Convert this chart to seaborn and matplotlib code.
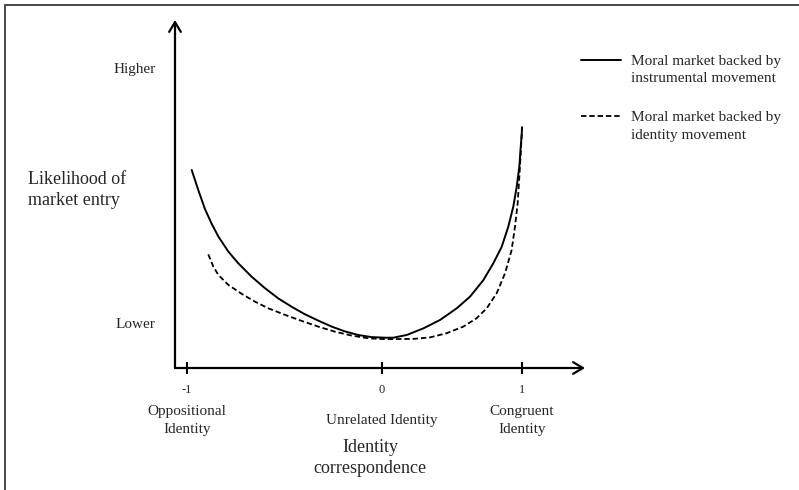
import numpy as np
import pandas as pd
import seaborn as sns
import matplotlib.pyplot as plt
from matplotlib.legend_handler import HandlerLine2D

# curve values (x = identity correspondence, y = likelihood)
inst_x = [-0.976, -0.942, -0.908, -0.873, -0.839, -0.788, -0.737, -0.668, -0.600, -0.532,
          -0.463, -0.395, -0.327, -0.258, -0.190, -0.122, -0.053, 0.021, 0.081, 0.176,
          0.295, 0.414, 0.534, 0.629, 0.724, 0.795, 0.855, 0.902, 0.938, 0.962,
          0.981, 0.991, 0.998, 1.0]
inst_y = [0.660, 0.593, 0.530, 0.480, 0.438, 0.388, 0.349, 0.304, 0.266, 0.232,
          0.204, 0.179, 0.158, 0.138, 0.122, 0.110, 0.103, 0.101, 0.101, 0.110,
          0.132, 0.160, 0.199, 0.238, 0.293, 0.349, 0.404, 0.471, 0.538, 0.604,
          0.671, 0.738, 0.777, 0.803]
iden_x = [-0.891, -0.865, -0.839, -0.788, -0.719, -0.651, -0.583, -0.497, -0.412, -0.327,
          -0.241, -0.155, -0.070, 0.021, 0.224, 0.343, 0.462, 0.581, 0.676, 0.748,
          0.819, 0.879, 0.926, 0.950, 0.969, 0.981, 0.991, 0.998, 1.0]
iden_y = [0.379, 0.338, 0.310, 0.277, 0.247, 0.221, 0.199, 0.177, 0.157, 0.138,
          0.121, 0.108, 0.099, 0.096, 0.097, 0.102, 0.116, 0.138, 0.166, 0.199,
          0.249, 0.316, 0.393, 0.471, 0.549, 0.638, 0.716, 0.782, 0.803]

series = ["Moral market backed by\ninstrumental movement",
          "Moral market backed by\nidentity movement"]
x_ticks = [-1, 0, 1]
x_ticklabels = ["-1", "0", "1"]
x_categories = ["Oppositional\nIdentity", "Unrelated Identity", "Congruent\nIdentity"]
y_ticks = [1.0, 0.15]
y_ticklabels = ["Higher", "Lower"]

df1 = pd.DataFrame({"x": inst_x, "y": inst_y})
df2 = pd.DataFrame({"x": iden_x, "y": iden_y})

sns.set_style("white")
plt.rcParams['font.family'] = ['Liberation Serif', 'DejaVu Serif']

fig = plt.figure(figsize=(7.99, 4.90), dpi=100)
W, H = 799, 490
ax = fig.add_axes([175 / W, 1 - 368 / H, (585 - 175) / W, (368 - 20) / H])


# the x axis in the original is not evenly spaced (-1..0 is wider than 0..1)
def fwd(x):
    x = np.asarray(x, dtype=float)
    return np.where(x < 0, x * 195, x * 140)


def inv(p):
    p = np.asarray(p, dtype=float)
    return np.where(p < 0, p / 195, p / 140)


sns.lineplot(data=df1, x="x", y="y", color="black", lw=1.4, sort=False,
             estimator=None, label=series[0], ax=ax)
sns.lineplot(data=df2, x="x", y="y", color="black", lw=1.3, sort=False,
             estimator=None, label=series[1], ax=ax, linestyle=(0, (3, 1.6)))

ax.set_xscale('function', functions=(fwd, inv))
ax.set_xlim(-207 / 195, 203 / 140)
ax.set_ylim(0, 348 / 300)

for s in ax.spines.values():
    s.set_visible(False)

# arrowed axes
for end in [(1, 0), (0, 1)]:
    ax.annotate("", xy=end, xytext=(0, 0), xycoords="axes fraction",
                arrowprops=dict(arrowstyle="->, head_length=0.5, head_width=0.3",
                                lw=1.6, color="black", mutation_scale=14,
                                shrinkA=0, shrinkB=0))

ax.set_xticks(x_ticks, x_ticklabels)
ax.xaxis.set_minor_locator(plt.NullLocator())
ax.tick_params(axis="x", direction="inout", length=9, width=1.5, pad=7,
               labelsize=9, bottom=True, color="black")
ax.set_yticks(y_ticks, y_ticklabels)
ax.yaxis.set_minor_locator(plt.NullLocator())
ax.tick_params(axis="y", length=0, pad=14, labelsize=11)
ax.set_xlabel("")
ax.set_ylabel("")

tr = ax.get_xaxis_transform()
for xv, lab in zip(x_ticks, x_categories):
    ax.text(xv, -0.15, lab, transform=tr, ha="center", va="center",
            fontsize=11, linespacing=1.5)
ax.text(-0.06, -0.259, "Identity\ncorrespondence", transform=tr, ha="center",
        va="center", fontsize=13, linespacing=1.35)
ax.text(-147 / 410, 178 / 348, "Likelihood of\nmarket entry", transform=ax.transAxes,
        ha="left", va="center", fontsize=13, linespacing=1.3)


class TopLine(HandlerLine2D):
    # put the key sample level with the first line of a two-line label
    def create_artists(self, legend, orig_handle, xdescent, ydescent, width,
                       height, fontsize, trans):
        arts = super().create_artists(legend, orig_handle, xdescent, ydescent,
                                      width, height, fontsize, trans)
        for a in arts:
            a.set_ydata(np.asarray(a.get_ydata()) + 0.68 * fontsize)
        return arts


plt.rcParams['text.parse_math'] = False
leg = ax.legend(loc="upper left", bbox_to_anchor=(581 / W, 1 - 55 / H),
                bbox_transform=fig.transFigure, frameon=False, fontsize=11,
                handlelength=2.6, handletextpad=0.65, borderpad=0, borderaxespad=0,
                labelspacing=1.7, handler_map={plt.Line2D: TopLine()})
for t in leg.get_texts():
    t.set_linespacing(1.45)

# partial frame of the source image (left and top edges)
fig.add_artist(plt.Rectangle((4.5 / W, -0.2), 1.5, 1.2 - 4.5 / H, fill=False,
                             lw=1.3, edgecolor="#3a3a3a", transform=fig.transFigure))

fig.savefig("out.png", dpi=100)
